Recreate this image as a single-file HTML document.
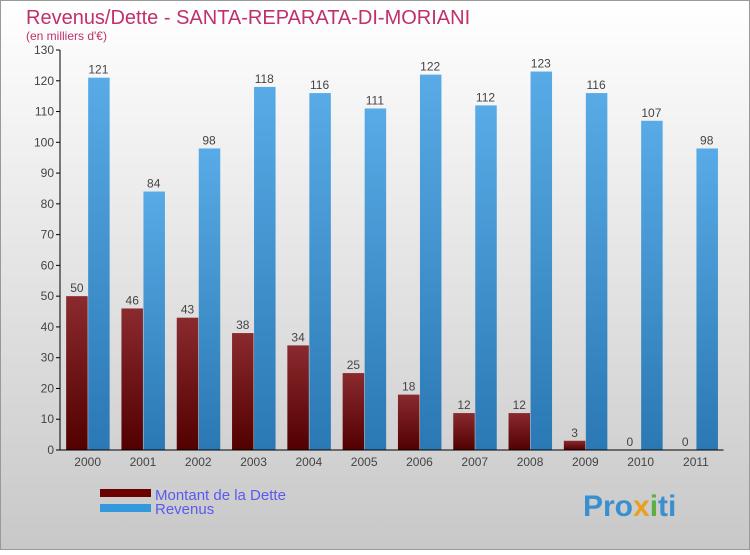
<!DOCTYPE html>
<html><head><meta charset="utf-8"><style>
body{margin:0;}
#c{width:750px;height:550px;position:relative;font-family:"Liberation Sans",sans-serif;}
</style></head><body>
<div id="c">
<svg id="s" width="750" height="550" xmlns="http://www.w3.org/2000/svg">
<defs>
<linearGradient id="bg" x1="0" y1="0" x2="0" y2="1"><stop offset="0" stop-color="#ffffff"/><stop offset="1" stop-color="#c8c8c8"/></linearGradient>
<linearGradient id="gd" x1="0" y1="0" x2="0" y2="1"><stop offset="0" stop-color="#8a2a2e"/><stop offset="1" stop-color="#520000"/></linearGradient>
<linearGradient id="gr" x1="0" y1="0" x2="0" y2="1"><stop offset="0" stop-color="#58abe6"/><stop offset="1" stop-color="#2a78b4"/></linearGradient>
</defs>
<rect x="0.5" y="0.5" width="749" height="549" fill="url(#bg)" stroke="#999"/>
<text x="26" y="24" font-size="20" fill="#c0306a">Revenus/Dette - SANTA-REPARATA-DI-MORIANI</text>
<text x="26" y="40" font-size="12" fill="#c0306a">(en milliers d'€)</text>
<g id="plot"></g>
<rect x="100" y="489" width="51" height="8" fill="#6a0000"/>
<rect x="100" y="504" width="51" height="8" fill="#3498dc"/>
<text x="155" y="500" font-size="15" fill="#5a5aee">Montant de la Dette</text>
<text x="155" y="514" font-size="15" fill="#5a5aee">Revenus</text>
<text x="583" y="516" font-size="30" font-weight="bold" fill="#3a8fd0">Pro<tspan fill="#e8a020">x</tspan><tspan fill="#5ab040">i</tspan>ti</text>
</svg>
</div>
<script>
const years=["2000","2001","2002","2003","2004","2005","2006","2007","2008","2009","2010","2011"];
const dette=[50,46,43,38,34,25,18,12,12,3,0,0];
const revenus=[121,84,98,118,116,111,122,112,123,116,107,98];
const yTicks=[0,10,20,30,40,50,60,70,80,90,100,110,120,130];
const NS="http://www.w3.org/2000/svg";
const g=document.getElementById('plot');
const x0=60,band=55.3,y0=450,yTop=50,yMax=130;
const ys=v=>y0-(v/yMax)*(y0-yTop);
function mk(t,a,txt){const e=document.createElementNS(NS,t);for(const k in a)e.setAttribute(k,a[k]);if(txt!==undefined)e.textContent=txt;g.appendChild(e);return e;}
yTicks.forEach(v=>{
 const l=mk('line',{x1:x0-4,x2:x0,y1:ys(v),y2:ys(v),stroke:'#000'});
 
 
 const t=mk('text',{x:x0-6,y:ys(v)+4,'font-size':12,fill:'#444','text-anchor':'end'},v);
 
 
});
years.forEach((yr,i)=>{
 const c=x0+band*(i+0.5);
 const bw=21.5;
 const hd=ys(0)-ys(dette[i]);
 const b1=mk('rect',{x:c-bw,y:ys(dette[i]),width:bw,height:hd,fill:'url(#gd)'});
 
 
 const b2=mk('rect',{x:c+0.5,y:ys(revenus[i]),width:bw,height:ys(0)-ys(revenus[i]),fill:'url(#gr)'});
 
 
 const l1=mk('text',{x:c-bw/2,y:ys(dette[i])-4,'font-size':12,fill:'#444','text-anchor':'middle'},dette[i]);
 
 
 const l2=mk('text',{x:c+bw/2,y:ys(revenus[i])-4,'font-size':12,fill:'#444','text-anchor':'middle'},revenus[i]);
 
 
 const tk=mk('text',{x:c,y:y0+16,'font-size':12,fill:'#444','text-anchor':'middle'},yr);
 
 
});
const ax=mk('line',{x1:x0,x2:x0,y1:yTop,y2:y0,stroke:'#000'});


const xa=mk('line',{x1:x0,x2:x0+band*12,y1:y0,y2:y0,stroke:'#000'});


</script>
</body></html>
